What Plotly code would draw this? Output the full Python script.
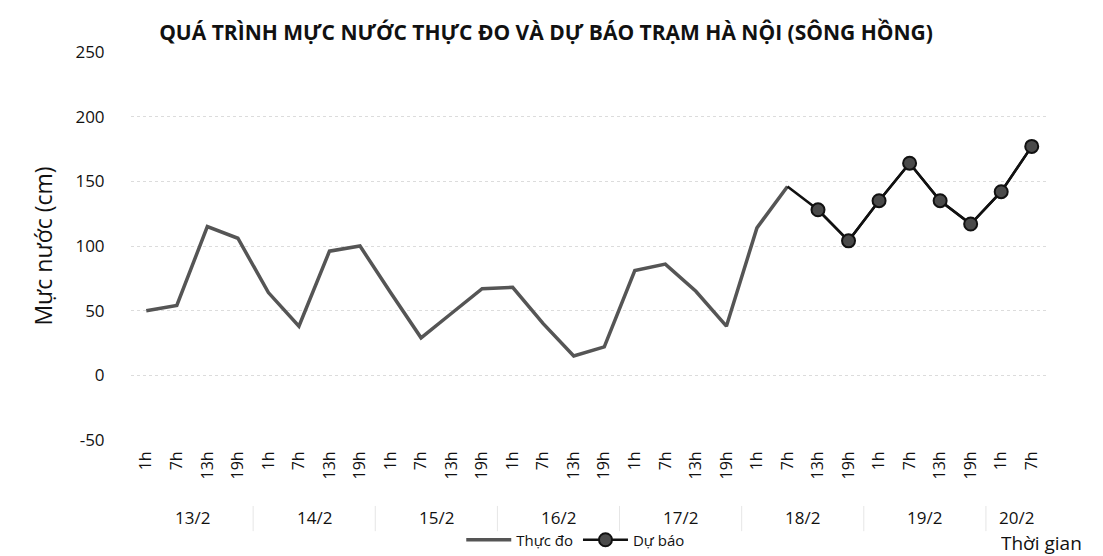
import plotly.graph_objects as go

dates = ["13/2", "14/2", "15/2", "16/2", "17/2", "18/2", "19/2", "20/2"]
hour_labels = ["1h", "7h", "13h", "19h"] * 7 + ["1h", "7h"]
y_ticks = [-50, 0, 50, 100, 150, 200, 250]
y_tick_text = ["-50", "0", "50", "100", "150", "200", "250"]

# Observed (Thực đo): 13/2 1h .. 18/2 7h
observed = [50, 54, 115, 106, 64, 38, 96, 100, 64, 29, 48, 67, 68, 40, 15, 22,
            81, 86, 65, 38, 114, 146]
# Forecast (Dự báo): 18/2 7h (start) .. 20/2 7h
forecast = [146, 128, 104, 135, 164, 135, 117, 142, 177]

n = len(hour_labels)
idx = list(range(n))
obs_x = idx[:len(observed)]
fc_x = idx[len(observed) - 1:]

font = "Open Sans"
fig = go.Figure()
fig.add_trace(go.Scatter(x=obs_x, y=observed, mode="lines", name="Thực đo",
                         line=dict(color="#555555", width=3.5)))
fig.add_trace(go.Scatter(x=fc_x, y=forecast, mode="lines", showlegend=False,
                         line=dict(color="#111111", width=2.5), hoverinfo="skip"))
fig.add_trace(go.Scatter(x=fc_x[1:], y=forecast[1:], mode="lines+markers", name="Dự báo",
                         line=dict(color="#111111", width=2.5),
                         marker=dict(size=13, color="#4a4a4a",
                                     line=dict(color="#111111", width=2))))

# date group labels
group_sizes = [4] * 7 + [2]
start = 0
for d, g in zip(dates, group_sizes):
    center = start + (g - 1) / 2
    fig.add_annotation(x=center, y=-0.198, xref="x", yref="paper", text=d,
                       showarrow=False, font=dict(size=17, color="#111", family=font),
                       yanchor="middle", height=22)
    if start > 0:
        fig.add_shape(type="line", x0=start - 0.5, x1=start - 0.5, xref="x",
                      y0=-0.17, y1=-0.235, yref="paper",
                      line=dict(color="#e6e6e6", width=1))
    start += g

fig.add_annotation(x=0.9945, y=-0.266, xref="paper", yref="paper", text="Thời gian",
                   showarrow=False, font=dict(size=19, color="#111", family=font),
                   xanchor="center", yanchor="middle", height=24)

fig.update_layout(
    width=1103, height=556,
    paper_bgcolor="white", plot_bgcolor="white",
    margin=dict(l=131, r=56, t=52, b=116),
    title=dict(text="<b>QUÁ TRÌNH MỰC NƯỚC THỰC ĐO VÀ DỰ BÁO TRẠM HÀ NỘI (SÔNG HỒNG)</b>",
               x=0.495, xanchor="center", y=0.942, yanchor="middle",
               font=dict(size=21, color="#111", family=font)),
    font=dict(family=font, color="#222"),
    showlegend=True,
    legend=dict(orientation="h", x=0.485, xanchor="center", xref="paper",
                y=1 - 540 / 556, yanchor="middle", yref="container",
                font=dict(size=15, color="#111", family=font), itemwidth=45,
                bgcolor="rgba(0,0,0,0)"),
    xaxis=dict(range=[-0.5, n - 0.5], tickmode="array", tickvals=idx, ticktext=hour_labels,
               tickangle=-90, tickfont=dict(size=16, color="#111"), showgrid=False,
               zeroline=False, showline=False, ticks="outside", ticklen=4,
               tickcolor="rgba(0,0,0,0)", automargin=False),
    yaxis=dict(range=[-50, 250], tickmode="array", tickvals=y_ticks, ticktext=y_tick_text,
               tickfont=dict(size=17, color="#111"),
               showgrid=True, gridcolor="#dcdcdc", griddash="dot", gridwidth=1,
               zeroline=False, showline=False, ticks="outside", ticklen=22,
               tickcolor="rgba(0,0,0,0)", automargin=False,
               title=dict(text="Mực nước (cm)", font=dict(size=23, color="#111"), standoff=16)),
)

fig.write_html("out.html", config={"displayModeBar": False},
               post_script="document.body.style.margin='0';")
